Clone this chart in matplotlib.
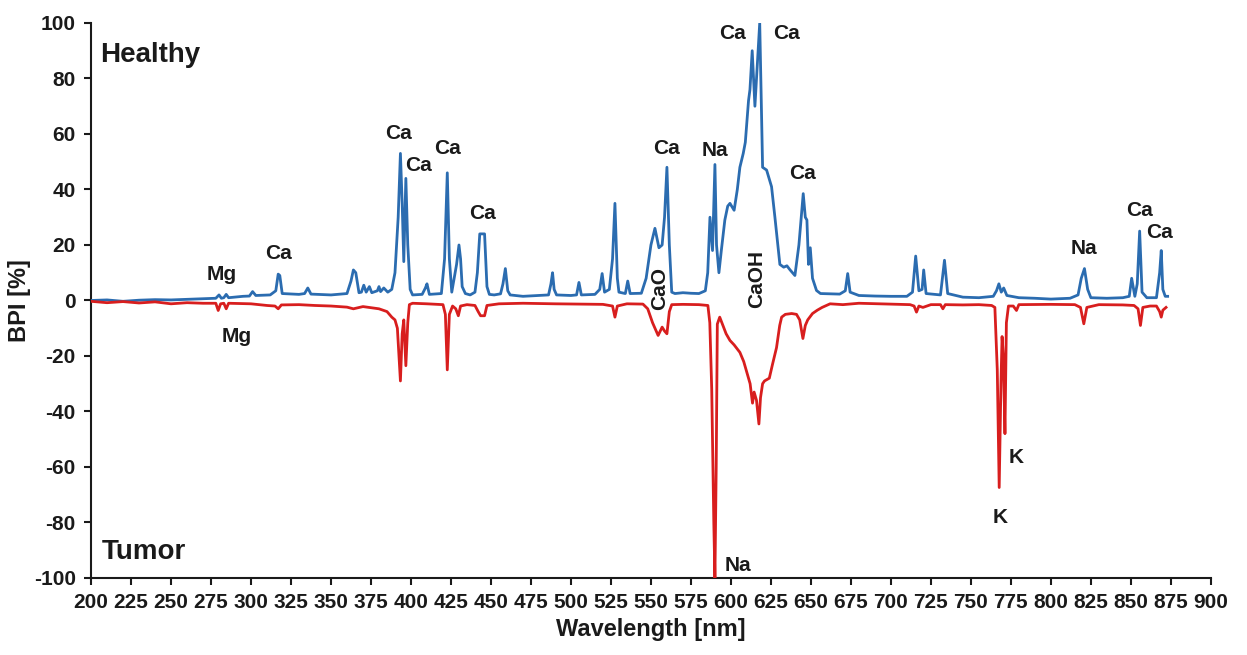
import matplotlib as mpl
import matplotlib.pyplot as plt

# base config
mpl.rcParams['font.family'] = ['Liberation Sans', 'DejaVu Sans']
mpl.rcParams['font.weight'] = 'bold'
mpl.rcParams['axes.linewidth'] = 1.5
mpl.rcParams['axes.unicode_minus'] = False

# healthy spectrum (blue)
healthy_wl = [200, 210, 220, 230, 240, 250, 260, 270, 278, 280, 281.5, 283, 284.5, 286,
              295, 299, 301, 303, 312, 315.5, 317, 318, 319.5, 330, 333.5, 335.5, 337.5,
              350, 360, 362.5, 364, 365.5, 367.5, 369, 370.5, 372, 374, 375.5, 379, 380,
              381, 383, 385.5, 388, 390, 392, 393.4, 394.5, 395.5, 396.8, 398, 399.5, 401,
              407, 409, 410, 411.5, 419, 421, 422.7, 424, 425.5, 427, 428.5, 430, 431, 432,
              434, 437, 440, 441.5, 443, 446, 447.5, 449, 452, 456, 457.5, 459, 460.5, 462,
              470, 480, 486, 487.5, 488.5, 489.5, 491, 500, 503.5, 505, 506.5, 515, 518,
              519.5, 521, 524, 526, 527.5, 529, 530, 534, 535.5, 537, 544, 547, 550, 552.5,
              555, 557, 558.5, 560, 561.5, 563, 565, 570, 575, 580, 584, 585.5, 586.9,
              588.5, 590, 591, 592.5, 594, 596.2, 598, 599.4, 602, 604, 605.6, 607.7, 609,
              611, 611.9, 613.3, 615, 616, 618, 619.8, 622.3, 625.4, 627.5, 630.6, 633, 635,
              637, 640, 642.5, 645.2, 646.5, 647.5, 648.5, 649.6, 651, 653.5, 656, 662, 668,
              671.5, 673, 674.5, 680, 690, 700, 710, 713.5, 715.5, 717.5, 719.5, 720.5, 722,
              731, 733.5, 735.5, 745, 755, 764, 766, 767.5, 769, 770.5, 772.5, 780, 790, 800,
              812, 817, 819, 821, 823, 825, 835, 845, 849, 850.5, 852.5, 854, 855.5, 857,
              860, 866, 868, 869, 870, 871.5, 873]
healthy_bpi = [0.0, 0.2, -0.3, 0.1, 0.3, 0.2, 0.4, 0.6, 0.8, 2.0, 0.8, 1.0, 2.2, 1.0,
               1.5, 1.6, 3.2, 1.8, 2.0, 3.5, 9.5, 9.0, 2.5, 2.2, 2.5, 4.5, 2.3,
               2.0, 2.5, 7.0, 11.0, 10.0, 2.8, 3.0, 5.5, 3.0, 5.0, 2.8, 3.5, 5.0,
               3.2, 4.5, 3.0, 4.0, 10.0, 30, 53, 35, 14, 44, 20, 4.0, 2.0,
               2.2, 4.5, 6.0, 2.2, 2.5, 15, 46, 15, 3.0, 8.0, 13, 20, 15, 5,
               2.5, 2.0, 3.0, 10, 24, 24, 5, 2.2, 2.0, 2.4, 6.0, 11.5, 3.5, 2.0,
               1.5, 1.8, 2.0, 6.0, 10, 4, 2.0, 1.8, 2.0, 6.5, 2.0, 2.2, 4.0,
               9.7, 3.0, 4.0, 15, 35, 8, 3.0, 2.5, 7.0, 2.5, 2.6, 8.0, 20, 26,
               19, 20, 30, 48, 20, 3.0, 2.5, 2.8, 2.6, 2.5, 3.5, 10, 30,
               18, 49, 20, 10, 18, 29, 34, 35, 32.5, 40, 48, 53, 57,
               72, 76, 90, 70, 80, 100, 48, 47, 41, 30, 13, 12, 12.5,
               11, 9, 20, 38.5, 30, 29, 13, 19, 8, 3.6, 2.5, 2.4, 2.3,
               3.5, 9.7, 3.0, 1.8, 1.6, 1.5, 1.5, 3.0, 16, 3.5, 4.0, 11, 2.5,
               2.0, 14.5, 2.5, 1.2, 1.0, 1.5, 3.5, 6.0, 3.0, 4.5, 1.8, 1.0, 0.8, 0.5,
               0.8, 2.0, 8.0, 11.5, 4.0, 1.0, 0.8, 1.0, 1.5, 8.0, 1.5, 6.0, 25, 3.0,
               1.0, 1.0, 10, 18, 4, 1.5, 1.5]

# tumor spectrum (red), plotted downwards
tumor_wl = [200, 210, 220, 230, 240, 250, 260, 270, 278, 279.5, 281, 283, 284.5, 286,
            300, 310, 315, 317, 319, 330, 340, 350, 360, 364, 370, 380, 385, 388, 390,
            391.5, 393.4, 394.5, 395.5, 396.8, 398, 399, 401, 410, 420, 421.5, 422.7, 424,
            426, 428, 429.6, 431, 435, 440, 442, 443.5, 446, 447.5, 455, 470, 490, 505,
            520, 526, 527.5, 529, 535, 545, 548, 551, 554.5, 557, 558.5, 560, 561.5, 563,
            570, 580, 585.6, 586.8, 588, 589.3, 590, 590.8, 591.5, 593, 595, 597, 599.4,
            602, 605.6, 608, 610, 612, 613.5, 614.5, 616, 617.5, 618.5, 619.8, 621, 624,
            626, 628.5, 630.5, 631.7, 634, 638, 641, 643, 645, 646.5, 648, 651, 654, 657,
            662, 670, 680, 700, 712, 714.5, 716, 717.5, 720, 725, 731, 732.5, 734, 745,
            755, 763, 765, 766.5, 767.7, 768.8, 769.5, 770.3, 771.3, 772.2, 773.5, 776.5,
            778.5, 780, 800, 815, 818.5, 820.6, 822.5, 830, 845, 852, 854.5, 856, 857.5,
            862, 866, 868, 869, 870, 872]
tumor_bpi = [-0.3, -0.8, -0.4, -0.9, -0.5, -1.2, -0.8, -1.0, -1.0, -3.6, -1.2, -1.0, -3.0, -1.0,
             -1.2, -1.8, -2.0, -3.0, -1.6, -1.5, -1.8, -2.0, -2.4, -3.0, -2.2, -3.0, -4.0, -6.0, -7.0,
             -10, -29, -12, -7, -23.5, -8, -1.5, -1.0, -1.2, -1.5, -5, -25, -5,
             -2.0, -3.0, -5.5, -2.0, -1.5, -1.8, -4, -5.5, -5.5, -1.8, -1.2, -1.0, -1.2, -1.3,
             -1.4, -2.0, -6, -2.0, -1.2, -1.3, -3, -8, -12.6, -9.6, -11, -12, -4, -1.5,
             -1.4, -1.5, -1.8, -8, -32, -80, -100, -60, -8.5, -6, -9, -12, -14.4,
             -16, -18.7, -22, -26, -30, -37, -33, -36, -44.5, -35, -30, -29, -28,
             -23, -17, -9, -6, -5, -4.7, -5, -7, -13.7, -9, -7, -4.7, -3.5, -2.5,
             -1.2, -1.5, -1.0, -1.3, -1.5, -2.0, -4.2, -2.0, -2.5, -1.5, -1.5, -3.0, -1.5, -1.6,
             -1.5, -1.8, -2.5, -25, -67.4, -30, -13, -20, -48, -8, -2.0, -2.0,
             -3.6, -1.5, -1.4, -1.5, -2.5, -8.4, -2.5, -1.5, -1.6, -1.8, -3, -9, -2.5,
             -2.0, -2.0, -4, -6, -3.5, -2.5]

# peak labels: (text, wavelength, bpi, rotation)
peak_labels = [
    ('Mg', 281.9, 9.4, 0), ('Ca', 316.9, 16.9, 0), ('Ca', 391.9, 60.2, 0),
    ('Ca', 405.0, 48.6, 0), ('Ca', 423.1, 54.8, 0), ('Ca', 445.0, 31.4, 0),
    ('Ca', 560.0, 54.8, 0), ('Na', 590.0, 54.0, 0), ('Ca', 601.3, 96.2, 0),
    ('Ca', 635.0, 96.2, 0), ('Ca', 645.0, 45.8, 0), ('CaO', 555.6, 4.3, 90),
    ('CaOH', 616.3, 7.6, 90), ('Na', 820.6, 18.7, 0), ('Ca', 855.6, 32.4, 0),
    ('Ca', 868.1, 24.5, 0), ('Mg', 291.3, -13.0, 0), ('Na', 604.4, -95.5, 0),
    ('K', 778.1, -56.6, 0), ('K', 768.1, -78.2, 0),
]

xticks = list(range(200, 901, 25))
yticks = list(range(-100, 101, 20))

fig = plt.figure(figsize=(12.47, 6.55), dpi=100)
fig.patch.set_facecolor('white')
ax = fig.add_axes([0.073, 0.1176, 0.898, 0.8473])

ax.plot(healthy_wl, healthy_bpi, color='#2b6cb0', linewidth=2.0, zorder=3)
ax.plot(tumor_wl, tumor_bpi, color='#d81e1e', linewidth=2.0, zorder=4)

for txt, x, y, rot in peak_labels:
    ax.text(x, y, txt, ha='center', va='center', rotation=rot,
            fontsize=15, fontweight='bold', color='#1a1a1a', zorder=5)

ax.text(205.6, 88.3, 'Healthy', ha='left', va='center', fontsize=20, fontweight='bold', color='#1a1a1a')
ax.text(206.9, -90.5, 'Tumor', ha='left', va='center', fontsize=20, fontweight='bold', color='#1a1a1a')

ax.set_xlim(200, 900)
ax.set_ylim(-100, 100)
ax.set_xticks(xticks)
ax.set_yticks(yticks)
ax.tick_params(direction='out', length=5, width=1.5, labelsize=15, colors='#1a1a1a', pad=6)
for lbl in ax.get_xticklabels() + ax.get_yticklabels():
    lbl.set_fontweight('bold')

ax.set_xlabel('Wavelength [nm]', fontsize=17, fontweight='bold', color='#1a1a1a', labelpad=4)
ax.set_ylabel('BPI [%]', fontsize=17, fontweight='bold', color='#1a1a1a', labelpad=2)

ax.spines['top'].set_visible(False)
ax.spines['right'].set_visible(False)
ax.spines['left'].set_color('#1a1a1a')
ax.spines['bottom'].set_color('#1a1a1a')

fig.savefig('out.png', dpi=100, facecolor='white')
